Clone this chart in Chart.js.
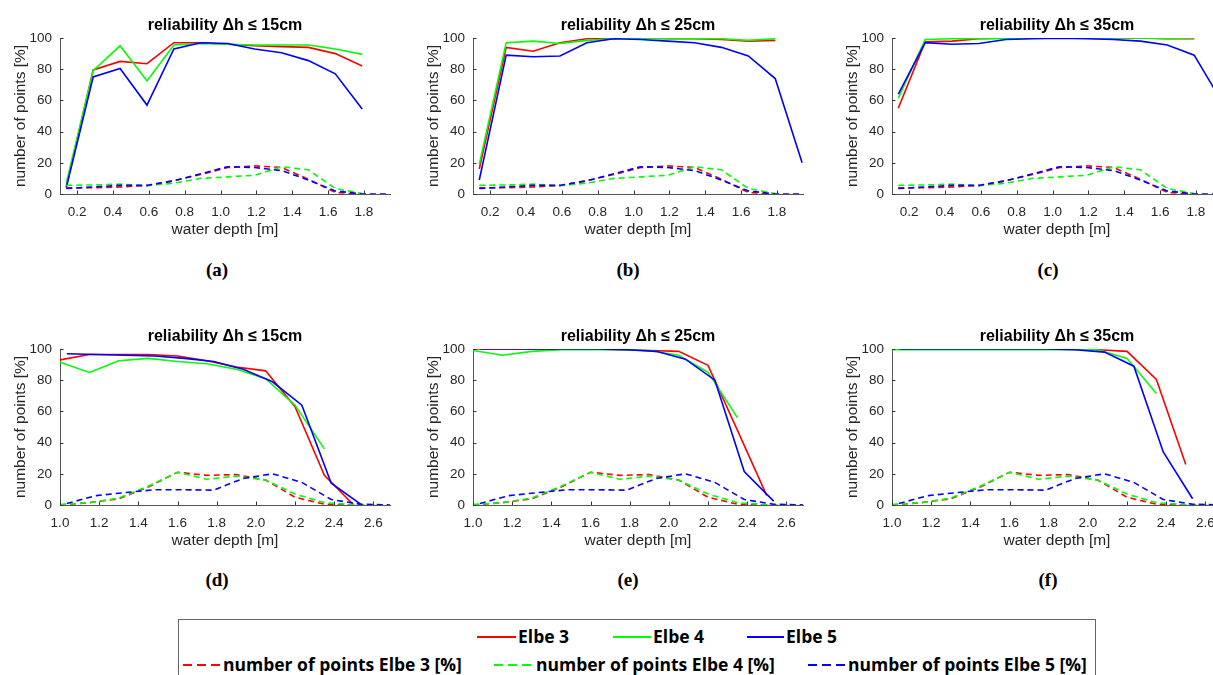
<!DOCTYPE html>
<html><head><meta charset="utf-8">
<script src="https://cdn.jsdelivr.net/npm/chart.js@4.4.0/dist/chart.umd.min.js"></script>
<style>
html,body{margin:0;padding:0;background:#fff;}
#wrap{position:relative;width:1213px;height:675px;overflow:hidden;background:#fff;}
#wrap canvas{position:absolute;}
.sub{position:absolute;font-family:"Liberation Serif","DejaVu Serif",serif;font-weight:bold;font-size:19px;line-height:24px;transform:translateX(-50%);color:#000;}
#legend{position:absolute;left:178px;top:619px;width:918px;height:70px;border:1px solid #666;box-sizing:border-box;}
.lg{position:absolute;font-family:"Open Sans",sans-serif;font-weight:700;font-size:17.5px;line-height:20px;color:#000;white-space:nowrap;}
.sw{position:absolute;}
</style></head>
<body>
<div id="wrap">
  <canvas id="ca" width="395" height="239"></canvas>
  <canvas id="cb" width="395" height="239"></canvas>
  <canvas id="cc" width="395" height="239"></canvas>
  <canvas id="cd" width="395" height="239"></canvas>
  <canvas id="ce" width="395" height="239"></canvas>
  <canvas id="cf" width="395" height="239"></canvas>
  <div class="sub" style="left:217px;top:258px">(a)</div>
  <div class="sub" style="left:628px;top:258px">(b)</div>
  <div class="sub" style="left:1048px;top:258px">(c)</div>
  <div class="sub" style="left:217px;top:568px">(d)</div>
  <div class="sub" style="left:628px;top:568px">(e)</div>
  <div class="sub" style="left:1048px;top:568px">(f)</div>
  <div id="legend">
    <svg class="sw" style="left:298px;top:14px" width="39" height="6"><line x1="0" y1="3" x2="39" y2="3" stroke="#ff0000" stroke-width="2"/></svg>
    <div class="lg" style="left:339px;top:6px">Elbe 3</div>
    <svg class="sw" style="left:434px;top:14px" width="38" height="6"><line x1="0" y1="3" x2="38" y2="3" stroke="#00ff00" stroke-width="2"/></svg>
    <div class="lg" style="left:474px;top:6px">Elbe 4</div>
    <svg class="sw" style="left:568px;top:14px" width="37" height="6"><line x1="0" y1="3" x2="37" y2="3" stroke="#0000ff" stroke-width="2"/></svg>
    <div class="lg" style="left:607px;top:6px">Elbe 5</div>
    <svg class="sw" style="left:4px;top:42px" width="38" height="6"><line x1="0" y1="3" x2="38" y2="3" stroke="#ff0000" stroke-width="2" stroke-dasharray="9,5"/></svg>
    <div class="lg" style="left:44px;top:34px">number of points Elbe 3 [%]</div>
    <svg class="sw" style="left:315px;top:42px" width="40" height="6"><line x1="0" y1="3" x2="40" y2="3" stroke="#00ff00" stroke-width="2" stroke-dasharray="9,5"/></svg>
    <div class="lg" style="left:357px;top:34px">number of points Elbe 4 [%]</div>
    <svg class="sw" style="left:629px;top:42px" width="38" height="6"><line x1="0" y1="3" x2="38" y2="3" stroke="#0000ff" stroke-width="2" stroke-dasharray="9,5"/></svg>
    <div class="lg" style="left:669px;top:34px">number of points Elbe 5 [%]</div>
  </div>
</div>
<script>
// ---- x positions (water depth, m) ----
const xTop = [0.14,0.29,0.44,0.59,0.74,0.89,1.04,1.19,1.34,1.49,1.64,1.79,1.94];
const xBot34 = [1.0,1.15,1.3,1.45,1.6,1.75,1.9,2.05,2.2,2.35,2.5,2.65];
const xBot5 = [1.035,1.185,1.335,1.485,1.635,1.785,1.935,2.085,2.235,2.385,2.535,2.685];

// ---- top row, reliability (%) ----
const a_e3 = [5,79.5,85,83.5,97,97,96,95,94.5,94,90,82];
const a_e4 = [7,79,95,72.5,95.5,96.5,96,95.5,95.5,95.5,93,89.5];
const a_e5 = [4,75,80.5,57,93,97,96.5,93,90.5,85.5,77,54.5];
const b_e3 = [16,94,91.5,97,99.5,100,100,99.5,99.5,99,98,98.5];
const b_e4 = [19,97,98,96.5,98.5,99.5,100,99.5,99.5,99.5,98.5,99.5];
const b_e5 = [9,89,88,88.5,97,99.5,99,98,97,94,88.5,74,20];
const c_e3 = [55,97.5,98,99.5,100,100,100,100,100,100,99.5,99.5];
const c_e4 = [61.5,99,99.5,99.5,99.5,100,100,100,100,100,99.5,100];
const c_e5 = [64,97,96,96.5,99,99.5,99.8,99.5,99,98,95.5,89,60];
// ---- top row, number of points (%) ----
const nTop_e3 = [4,4,4.5,5.5,8.5,12.5,17,18,17,9.5,1,0];
const nTop_e4 = [5.5,5.8,6.3,5.3,7,10,11,12,17.5,15.5,3.5,0.3];
const nTop_e5 = [3.5,4.5,5.5,5.5,8.5,13,17.5,17,15,9,2,0,0];

// ---- bottom row, reliability (%) ----
const d_e3 = [93,96.5,96.5,96.5,95.5,92.5,88.5,86,63,19,0];
const d_e4 = [91.5,85,92.5,94,92,90.5,87,81,64,36];
const d_e5 = [97,96.5,96,95.5,94,92,87,79,64,14,0.5];
const e_e3 = [100,100,100,100,100,99.5,99,98.5,89.5,48,6];
const e_e4 = [99,96,98.5,99.5,99.5,99.5,99,96,85,56];
const e_e5 = [100,100,100,100,100,99.5,98.5,93.5,80,21.5,2.5];
const f_e3 = [100,100,100,100,100,100,100,99.5,98.5,80.5,26];
const f_e4 = [99.5,99.5,99.5,99.5,99.5,99.5,99.5,99.5,94,71.5];
const f_e5 = [100,100,100,100,100,100,99.5,98,89,34,4];
// ---- bottom row, number of points (%) ----
const nBot_e3 = [0,1.5,4,11.5,21,19,19.5,16,5,0.5,0];
const nBot_e4 = [0.3,1.5,4.5,12,21,16.5,18.5,16,7,1.5,0.2,0];
const nBot_e5 = [1,6,8,9.8,9.8,9.5,17,20,14.5,3.5,0.5,0];

const titles = ['reliability \u0394h \u2264 15cm','reliability \u0394h \u2264 25cm','reliability \u0394h \u2264 35cm'];
const xTitle = 'water depth [m]';
const yTitle = 'number of points [%]';
const seriesNames = ['Elbe 3','Elbe 4','Elbe 5','number of points Elbe 3 [%]','number of points Elbe 4 [%]','number of points Elbe 5 [%]'];

const COLORS = ['#ff0000','#00e600','#0000ff'];
COLORS[1] = '#00ff00';

Chart.defaults.font.family = '"Liberation Sans", Arial, sans-serif';

function pts(xs, ys){ return ys.map((y,i)=>({x:xs[i], y:y})); }

const inTicks = {
  id:'inTicks',
  afterDatasetsDraw(chart){
    const {ctx, chartArea:ca, scales:{x,y}} = chart;
    ctx.save(); ctx.strokeStyle='#333'; ctx.lineWidth=1;
    ctx.beginPath();
    x.ticks.forEach(t=>{const px=Math.round(x.getPixelForValue(t.value))+0.5; ctx.moveTo(px, ca.bottom); ctx.lineTo(px, ca.bottom-3.5);});
    y.ticks.forEach(t=>{const py=Math.round(y.getPixelForValue(t.value))+0.5; ctx.moveTo(ca.left, py); ctx.lineTo(ca.left+3.5, py);});
    ctx.stroke(); ctx.restore();
  }
};

const panels = [
  {id:'ca', left:0,   top:0,   title:titles[0], solid:[a_e3,a_e4,a_e5], sx:[xTop,xTop,xTop], dashed:[nTop_e3,nTop_e4,nTop_e5], dx:[xTop,xTop,xTop], xmin:0.105, xmax:1.945},
  {id:'cb', left:413, top:0,   title:titles[1], solid:[b_e3,b_e4,b_e5], sx:[xTop,xTop,xTop], dashed:[nTop_e3,nTop_e4,nTop_e5], dx:[xTop,xTop,xTop], xmin:0.105, xmax:1.945},
  {id:'cc', left:832, top:0,   title:titles[2], solid:[c_e3,c_e4,c_e5], sx:[xTop,xTop,xTop], dashed:[nTop_e3,nTop_e4,nTop_e5], dx:[xTop,xTop,xTop], xmin:0.105, xmax:1.945},
  {id:'cd', left:0,   top:311, title:titles[0], solid:[d_e3,d_e4,d_e5], sx:[xBot34,xBot34,xBot5], dashed:[nBot_e3,nBot_e4,nBot_e5], dx:[xBot34,xBot34,xBot5], xmin:1.0, xmax:2.685},
  {id:'ce', left:413, top:311, title:titles[1], solid:[e_e3,e_e4,e_e5], sx:[xBot34,xBot34,xBot5], dashed:[nBot_e3,nBot_e4,nBot_e5], dx:[xBot34,xBot34,xBot5], xmin:1.0, xmax:2.685},
  {id:'cf', left:832, top:311, title:titles[2], solid:[f_e3,f_e4,f_e5], sx:[xBot34,xBot34,xBot5], dashed:[nBot_e3,nBot_e4,nBot_e5], dx:[xBot34,xBot34,xBot5], xmin:1.0, xmax:2.685}
];

const tickColor = '#262626';
panels.forEach(p=>{
  const cv = document.getElementById(p.id);
  cv.style.left = p.left+'px'; cv.style.top = p.top+'px';
  const ds = [];
  p.solid.forEach((ys,i)=>ds.push({label:seriesNames[i], data:pts(p.sx[i], ys), borderColor:COLORS[i], borderWidth:1.6, pointRadius:0, fill:false, tension:0}));
  p.dashed.forEach((ys,i)=>ds.push({label:seriesNames[3+i], data:pts(p.dx[i], ys), borderColor:COLORS[i], borderWidth:1.6, borderDash:[6,4], pointRadius:0, fill:false, tension:0}));
  ds.forEach((d,i)=>{ d.order = ds.length - i; });
  new Chart(cv, {
    type:'line',
    data:{datasets:ds},
    options:{
      responsive:false, animation:false, devicePixelRatio:1,
      layout:{padding:{left:0,right:5,top:0,bottom:0}},
      plugins:{
        legend:{display:false}, tooltip:{enabled:false},
        title:{display:true, text:p.title, fullSize:false, color:'#000', font:{size:16, weight:'bold'}, padding:{top:16.4,bottom:2.4}}
      },
      scales:{
        x:{type:'linear', min:p.xmin, max:p.xmax,
           afterFit(s){ s.height = 45; },
           grid:{display:true, drawOnChartArea:false, drawTicks:false},
           border:{display:true, color:'#555', width:1},
           ticks:{stepSize:0.2, includeBounds:false, padding:10, color:tickColor, font:{size:13.5}, maxRotation:0, autoSkip:false, callback:v=>Number(v).toFixed(1)},
           title:{display:true, text:xTitle, color:tickColor, font:{size:15.5}, padding:{top:0,bottom:0}}},
        y:{type:'linear', min:0, max:100,
           afterFit(s){ s.width = 60; },
           grid:{display:true, drawOnChartArea:false, drawTicks:false},
           border:{display:true, color:'#555', width:1},
           ticks:{stepSize:20, padding:8, color:tickColor, font:{size:13.5}},
           title:{display:true, text:yTitle, color:tickColor, font:{size:15.5}, padding:{top:11.7,bottom:0}}}
      }
    },
    plugins:[inTicks]
  });
});
</script>
</body></html>
